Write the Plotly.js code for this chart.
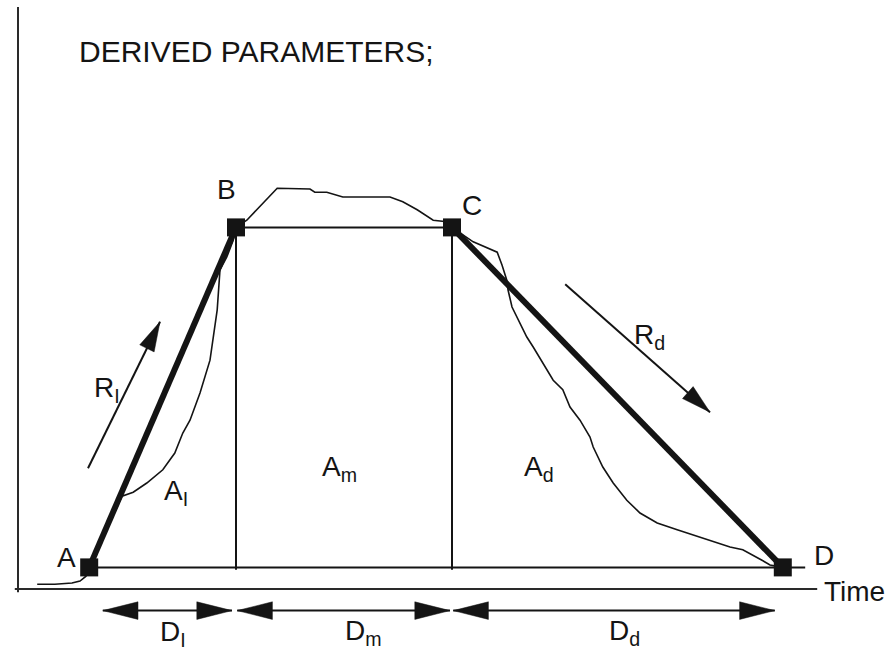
<!DOCTYPE html>
<html>
<head>
<meta charset="utf-8">
<script src="https://cdn.plot.ly/plotly-3.0.1.min.js"></script>
<style>
  html, body { margin: 0; padding: 0; background: #ffffff; }
  #chart { width: 894px; height: 651px; }
</style>
</head>
<body>
<div id="chart"></div>
<script>
// Measured response over time (arbitrary units)
const curveT = [2.4, 4.6, 6.75, 7.75, 8.5, 8.9, 10.9, 13.0, 14.4, 16.1, 18.1, 19.6, 20.6, 21.5,
  22.75, 24.0, 24.9, 25.25, 26.1, 26.9, 27.25, 28.6, 32.4, 36.5, 37.1, 38.6, 40.6, 46.5,
  48.1, 49.9, 51.9, 53.6, 54.25, 56.9, 59.9, 60.5, 61.1, 61.25, 61.75, 62.1, 62.75, 63.6,
  64.4, 65.6, 66.9, 68.1, 69.0, 70.25, 71.5, 71.9, 73.1, 74.4, 76.1, 77.75, 79.9, 82.4,
  84.4, 86.9, 89.0, 90.6, 91.9, 93.0, 94.0, 95.6];
const curveV = [0.6, 0.6, 0.75, 1.0, 1.6, 2.7, 7.0, 11.6, 12.1, 13.25, 14.9, 17.0, 19.5, 21.1,
  24.5, 28.6, 34.9, 39.9, 41.5, 43.6, 45.2, 46.1, 50.1, 50.0, 49.6, 49.6, 49.0, 49.0,
  48.4, 47.4, 46.1, 45.9, 45.2, 43.4, 42.1, 40.5, 38.6, 37.4, 35.25, 34.5, 33.25, 31.5,
  30.25, 28.25, 26.1, 24.9, 22.75, 21.1, 19.0, 17.75, 15.25, 13.25, 11.1, 9.5, 8.25, 7.4,
  6.75, 5.9, 5.25, 4.9, 4.25, 3.6, 3.0, 2.7];

// Characteristic points A, B, C, D
const pointNames = ['A', 'B', 'C', 'D'];
const pointT = [8.9, 27.25, 54.25, 95.6];
const pointV = [2.7, 45.2, 45.2, 2.7];

// Baseline runs a little past D; the phase dividers drop to just below it
const baselineEndT = 98.4;
const dividerFootV = 2.4;

// Phase durations (dimension arrows under the time axis)
const phaseLabels = ['D<sub>I</sub>', 'D<sub>m</sub>', 'D<sub>d</sub>'];
const dimStartT = [10.6, 27.4, 54.4];
const dimEndT = [26.75, 54.0, 94.6];
const dimLevelV = -2.7;

// Phase areas
const areaLabels = ['A<sub>I</sub>', 'A<sub>m</sub>', 'A<sub>d</sub>'];

// Rate arrows (increase / decrease)
const rateLabels = ['R<sub>I</sub>', 'R<sub>d</sub>'];
const rateFromT = [8.75, 68.4];
const rateFromV = [15.1, 38.1];
const rateToT = [17.75, 86.5];
const rateToV = [33.4, 22.1];

const INK = '#141414';
const FONT = 'Liberation Sans, Arial, Helvetica, sans-serif';

// Filled triangular arrowhead with its tip at (tx, ty), pointing along (dx, dy)
function arrowHead(tx, ty, dx, dy, len, half) {
  const n = Math.hypot(dx, dy);
  const ux = dx / n, uy = dy / n;
  const bx = tx - ux * len, by = ty - uy * len;
  const px = -uy * half, py = ux * half;
  return { x: [tx, bx + px, bx - px, tx, null], y: [ty, by + py, by - py, ty, null] };
}

const traces = [];

// Frame lines: baseline A..end, plateau B-C, phase dividers
const frameX = [pointT[0], baselineEndT, null, pointT[1], pointT[2], null,
  pointT[1], pointT[1], null, pointT[2], pointT[2]];
const frameY = [pointV[0], pointV[0], null, pointV[1], pointV[2], null,
  pointV[1], dividerFootV, null, pointV[2], dividerFootV];
traces.push({ x: frameX, y: frameY, mode: 'lines', line: { color: INK, width: 2 } });

// Measured curve
traces.push({ x: curveT, y: curveV, mode: 'lines', line: { color: INK, width: 1.6 } });

// Linear rise A-B and fall C-D
traces.push({
  x: [pointT[0], pointT[1], null, pointT[2], pointT[3]],
  y: [pointV[0], pointV[1], null, pointV[2], pointV[3]],
  mode: 'lines', line: { color: INK, width: 6 }
});

// Dimension arrows
const dimX = [], dimY = [], headX = [], headY = [];
for (let i = 0; i < dimStartT.length; i++) {
  dimX.push(dimStartT[i], dimEndT[i], null);
  dimY.push(dimLevelV, dimLevelV, null);
  const l = arrowHead(dimStartT[i], dimLevelV, -1, 0, 4.4, 1.1);
  const r = arrowHead(dimEndT[i], dimLevelV, 1, 0, 4.4, 1.1);
  headX.push(...l.x, ...r.x);
  headY.push(...l.y, ...r.y);
}
traces.push({ x: dimX, y: dimY, mode: 'lines', line: { color: INK, width: 2 } });

// Rate arrows
const rateX = [], rateY = [];
for (let i = 0; i < rateFromT.length; i++) {
  rateX.push(rateFromT[i], rateToT[i], null);
  rateY.push(rateFromV[i], rateToV[i], null);
  const h = arrowHead(rateToT[i], rateToV[i], rateToT[i] - rateFromT[i], rateToV[i] - rateFromV[i], 3.7, 1.0);
  headX.push(...h.x);
  headY.push(...h.y);
}
traces.push({ x: rateX, y: rateY, mode: 'lines', line: { color: INK, width: 2 } });

traces.push({
  x: headX, y: headY, mode: 'lines', fill: 'toself', fillcolor: INK,
  line: { color: INK, width: 0.5 }
});

// Point markers
traces.push({
  x: pointT, y: pointV, mode: 'markers',
  marker: { symbol: 'square', size: 18, color: INK }
});

function label(text, x, y, xanchor, size, yshift) {
  return {
    text: text, x: x, y: y, xref: 'x', yref: 'y', showarrow: false,
    xanchor: xanchor, yanchor: 'middle', yshift: yshift || 0,
    font: { family: FONT, size: size, color: INK }
  };
}

const annotations = [
  label('DERIVED PARAMETERS;', 7.4, 67.25, 'left', 30),
  label(pointNames[0], 7.5, 3.9, 'right', 28),
  label(pointNames[1], 26.0, 49.9, 'center', 28),
  label(pointNames[2], 56.75, 48.0, 'center', 28),
  label(pointNames[3], 99.25, 4.25, 'left', 28),
  label('Time', 100.5, -0.25, 'left', 28),
  label(rateLabels[0], 9.25, 25.5, 'left', 28, -4),
  label(rateLabels[1], 76.75, 32.1, 'left', 28, -4),
  label(areaLabels[0], 18.0, 12.6, 'left', 28, -4),
  label(areaLabels[1], 37.75, 15.6, 'left', 28, -4),
  label(areaLabels[2], 63.0, 15.6, 'left', 28, -4),
  label(phaseLabels[0], 17.5, -5.4, 'left', 28, -1),
  label(phaseLabels[1], 40.6, -5.25, 'left', 28, -1),
  label(phaseLabels[2], 73.6, -5.25, 'left', 28, -1)
];

// Time and response axes
const shapes = [
  { type: 'line', xref: 'x', yref: 'y', x0: 0, x1: 0, y0: -0.4, y1: 72.75, line: { color: '#2a2a2a', width: 2 } },
  { type: 'line', xref: 'x', yref: 'y', x0: -0.4, x1: 99.9, y0: 0, y1: 0, line: { color: '#2a2a2a', width: 2 } }
];

const layout = {
  width: 894, height: 651,
  margin: { l: 0, r: 0, t: 0, b: 0 },
  paper_bgcolor: '#ffffff', plot_bgcolor: '#ffffff',
  showlegend: false, hovermode: false,
  xaxis: { range: [-2.25, 109.5], visible: false, fixedrange: true },
  yaxis: { range: [-7.75, 73.625], visible: false, fixedrange: true },
  shapes: shapes,
  annotations: annotations
};

Plotly.newPlot('chart', traces.map(t => Object.assign({ hoverinfo: 'skip', showlegend: false }, t)), layout,
  { staticPlot: true, displayModeBar: false });
</script>
</body>
</html>
